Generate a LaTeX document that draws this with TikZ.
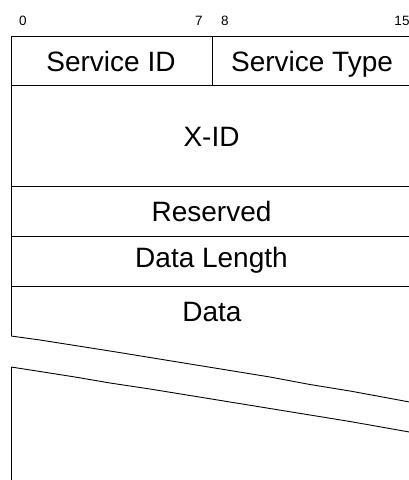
\documentclass[tikz,border=0pt]{standalone}
\usepackage{fontspec}
\setmainfont{Liberation Sans}
\begin{document}
\begin{tikzpicture}[x=1pt,y=-1pt,
  fld/.style={inner sep=0pt,anchor=base,font=\fontsize{28}{33}\selectfont},
  num/.style={inner sep=0pt,anchor=base,font=\fontsize{13.5}{16}\selectfont},
  rule/.style={line width=0.9pt,black}]
\useasboundingbox (0,0) rectangle (409,480);
% bit numbers
\node[num] (b0) at (23,25) {0};
\node[num] (b7) at (199,25) {7};
\node[num] (b8) at (225,25) {8};
\node[num] (b15) at (402,25) {15};
% frame
\draw[rule] (11,336) -- (11,36) -- (415,36);
\draw[rule] (11,85) -- (415,85);
\draw[rule] (212,36) -- (212,85);
\draw[rule] (11,186) -- (415,186);
\draw[rule] (11,236) -- (415,236);
\draw[rule] (11,286) -- (415,286);
% break lines
\draw[rule] (11,336) -- (40,340) -- (75,345.5) -- (110,351) -- (150,357.5) -- (190,364) -- (230,370.5) -- (270,377) -- (310,384.5) -- (350,391) -- (415,403);
\draw[rule] (11,367) -- (40,371.5) -- (75,377) -- (110,383) -- (150,389) -- (190,395.5) -- (230,402) -- (270,408.5) -- (310,415) -- (350,421.5) -- (415,433);
\draw[rule] (11,367) -- (11,482);
% field labels
\node[fld] (sid) at (111,71.5) {Service ID};
\node[fld] (stype) at (312,71.5) {Service Type};
\node[fld] (xid) at (211.5,146.5) {X-ID};
\node[fld] (res) at (211.5,221.5) {Reserved};
\node[fld] (dlen) at (211.5,267) {Data Length};
\node[fld] (data) at (212,321.5) {Data};
\end{tikzpicture}
\end{document}
